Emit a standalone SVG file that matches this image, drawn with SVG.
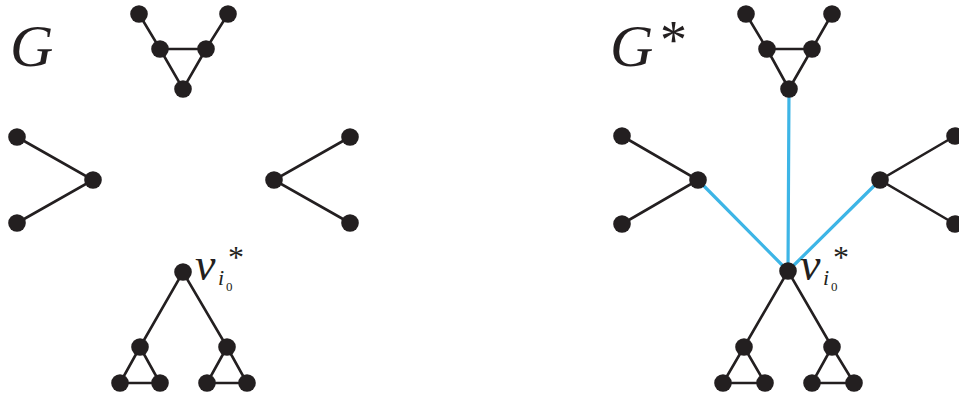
<svg xmlns="http://www.w3.org/2000/svg" width="959" height="394" viewBox="0 0 959 394">
<style>
.e{stroke:#231f20;stroke-width:2.6;fill:none}
.b{stroke:#3db5e6;stroke-width:3.2;fill:none}
.n{fill:#231f20}
.t{font-family:"Liberation Serif","Times New Roman",serif;font-style:italic;fill:#231f20}
.s{font-family:"Liberation Serif","Times New Roman",serif;fill:#231f20}
</style>
<defs><circle id="d" r="8.8"/></defs>
<rect width="959" height="394" fill="#fff"/>
<g id="connectors">
<path class="e" d="M139,14L160,49L206,49L228,14M160,49L183,89L206,49"/>
<path class="e" d="M17,137L93,180L17,223M350,137L274,180L350,223"/>
<path class="e" d="M140,347L183,272L227,347M140,347L120,383L160,383L140,347M227,347L207,383L247,383L227,347"/>
<path class="e" d="M746,14L767,49L812,49L832,14M767,49L789,89L812,49"/>
<path class="e" d="M622,136L698,180L622,224M955,136L880,180L955,224"/>
<path class="e" d="M744,347L788,271L832,347M744,347L723,383L765,383L744,347M832,347L812,383L854,383L832,347"/>
<path class="b" d="M788,271L789,89M788,271L698,180M788,271L880,180"/>
</g>
<g id="G-label"><text class="t" x="10" y="66" font-size="60">G</text></g>
<g id="Gstar-label"><text class="t" x="610" y="66" font-size="60">G</text><text class="s" x="660" y="58" font-size="54">*</text></g>
<g id="left-top" class="n"><use href="#d" x="139" y="14"/><use href="#d" x="228" y="14"/><use href="#d" x="160" y="49"/><use href="#d" x="206" y="49"/><use href="#d" x="183" y="89"/></g>
<g id="left-left" class="n"><use href="#d" x="17" y="137"/><use href="#d" x="93" y="180"/><use href="#d" x="17" y="223"/></g>
<g id="left-right" class="n"><use href="#d" x="274" y="180"/><use href="#d" x="350" y="137"/><use href="#d" x="350" y="223"/></g>
<g id="left-bottom" class="n"><use href="#d" x="183" y="272"/><use href="#d" x="140" y="347"/><use href="#d" x="227" y="347"/><use href="#d" x="120" y="383"/><use href="#d" x="160" y="383"/><use href="#d" x="207" y="383"/><use href="#d" x="247" y="383"/></g>
<g id="left-vlabel"><text class="t" x="195" y="280" font-size="46">v</text><text class="t" x="218" y="285" font-size="22">i</text><text class="s" x="226" y="291" font-size="13">0</text><text class="s" x="228" y="268" font-size="32">*</text></g>
<g id="right-top" class="n"><use href="#d" x="746" y="14"/><use href="#d" x="832" y="14"/><use href="#d" x="767" y="49"/><use href="#d" x="812" y="49"/><use href="#d" x="789" y="89"/></g>
<g id="right-left" class="n"><use href="#d" x="622" y="136"/><use href="#d" x="698" y="180"/><use href="#d" x="622" y="224"/></g>
<g id="right-right" class="n"><use href="#d" x="880" y="180"/><use href="#d" x="955" y="136"/><use href="#d" x="955" y="224"/></g>
<g id="right-bottom" class="n"><use href="#d" x="788" y="271"/><use href="#d" x="744" y="347"/><use href="#d" x="832" y="347"/><use href="#d" x="723" y="383"/><use href="#d" x="765" y="383"/><use href="#d" x="812" y="383"/><use href="#d" x="854" y="383"/></g>
<g id="right-vlabel"><text class="t" x="800" y="280" font-size="46">v</text><text class="t" x="823" y="285" font-size="22">i</text><text class="s" x="831" y="291" font-size="13">0</text><text class="s" x="833" y="268" font-size="32">*</text></g>
</svg>
